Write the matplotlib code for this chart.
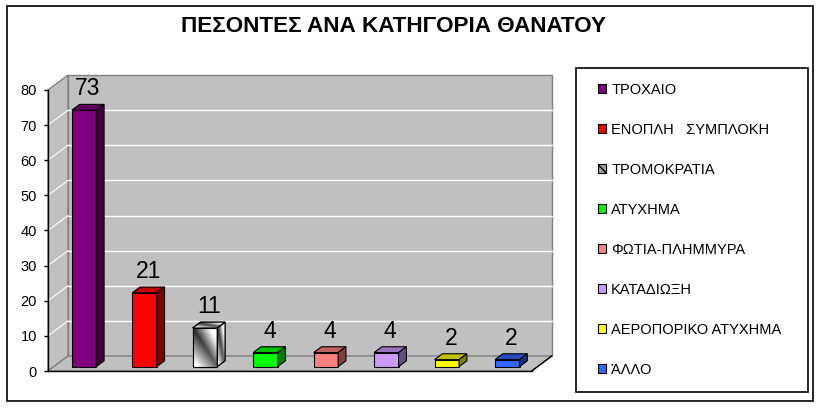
import numpy as np
import matplotlib.pyplot as plt
from matplotlib.patches import Polygon, Patch, Rectangle

plt.rcParams['font.family'] = ['Liberation Sans', 'DejaVu Sans']

# data
categories = ['ΤΡΟΧΑΙΟ', 'ΕΝΟΠΛΗ   ΣΥΜΠΛΟΚΗ', 'ΤΡΟΜΟΚΡΑΤΙΑ', 'ΑΤΥΧΗΜΑ',
              'ΦΩΤΙΑ-ΠΛΗΜΜΥΡΑ', 'ΚΑΤΑΔΙΩΞΗ', 'ΑΕΡΟΠΟΡΙΚΟ ΑΤΥΧΗΜΑ', 'ΆΛΛΟ']
values = [73, 21, 11, 4, 4, 4, 2, 2]
yticks = [0, 10, 20, 30, 40, 50, 60, 70, 80]
title = 'ΠΕΣΟΝΤΕΣ ΑΝΑ ΚΑΤΗΓΟΡΙΑ ΘΑΝΑΤΟΥ'

front_colors = ['#800080', '#FF0000', '#B0B0B0', '#00FF00', '#FF8080', '#CC99FF', '#FFFF00', '#3366FF']
top_colors = ['#600060', '#C00000', '#E0E0E0', '#00C000', '#C06060', '#9973BF', '#C0C000', '#264DBF']
side_colors = ['#400040', '#800000', '#F0F0F0', '#008000', '#804040', '#66507F', '#808000', '#1A3380']

W, H = 818, 411
fig = plt.figure(figsize=(W / 100, H / 100), dpi=100)

# outer chart border
fig.patches.append(Rectangle((6.5 / W, 10 / H), 806 / W, 395 / H, transform=fig.transFigure,
                             fill=False, edgecolor='black', lw=1.2))

ax = fig.add_axes([48 / W, 40 / H, 483.7 / W, 281 / H])
ax.set_facecolor('none')
n = len(values)
ymax = 80
DX, DY = 0.331, 4.27      # depth of the 3d box in data units
f0, f1 = 0.29, 0.68      # front/back depth of bars
bw = 0.405

wall = '#C0C0C0'
edge = '#808080'
# back wall, left wall, floor
ax.add_patch(Polygon([(DX, DY), (n + DX, DY), (n + DX, ymax + DY), (DX, ymax + DY)],
                     closed=True, facecolor=wall, edgecolor=edge, lw=1, clip_on=False, zorder=0))
ax.add_patch(Polygon([(0, 0), (DX, DY), (DX, ymax + DY), (0, ymax)],
                     closed=True, facecolor=wall, edgecolor=edge, lw=1, clip_on=False, zorder=0))
ax.add_patch(Polygon([(0, 0), (n, 0), (n + DX, DY), (DX, DY)],
                     closed=True, facecolor=wall, edgecolor=edge, lw=1, clip_on=False, zorder=0))
ax.plot([n, n + DX], [0, DY], color='black', lw=1, clip_on=False, zorder=1)

# gridlines
for v in yticks[1:-1]:
    ax.plot([DX, n + DX], [v + DY, v + DY], color='white', lw=1, clip_on=False, zorder=0.5)
    ax.plot([0, DX], [v, v + DY], color='white', lw=0.8, clip_on=False, zorder=0.5)

# bars
for i, v in enumerate(values):
    x0 = i + 0.5 - bw / 2
    ax0, ay0 = x0 + f0 * DX, f0 * DY
    bx, by = (f1 - f0) * DX, (f1 - f0) * DY
    front = [(ax0, ay0), (ax0 + bw, ay0), (ax0 + bw, ay0 + v), (ax0, ay0 + v)]
    top = [(ax0, ay0 + v), (ax0 + bw, ay0 + v), (ax0 + bw + bx, ay0 + v + by), (ax0 + bx, ay0 + v + by)]
    side = [(ax0 + bw, ay0), (ax0 + bw + bx, ay0 + by), (ax0 + bw + bx, ay0 + v + by), (ax0 + bw, ay0 + v)]
    for poly, col in [(front, front_colors[i]), (top, top_colors[i]), (side, side_colors[i])]:
        p = Polygon(poly, closed=True, facecolor=col, edgecolor='black', lw=0.8, clip_on=False, zorder=3)
        ax.add_patch(p)
        if i == 2:
            # metallic gradient fill for the terrorism bar
            xs = np.array(poly)[:, 0]
            ys = np.array(poly)[:, 1]
            gx, gy = np.meshgrid(np.linspace(0, 1, 60), np.linspace(0, 1, 60))
            g = np.abs(gx - (1 - gy)) + 0.25 * gx
            g = np.clip(0.15 + g, 0, 1)
            im = ax.imshow(g, cmap='gray', vmin=0, vmax=1, aspect='auto', origin='lower',
                           extent=(xs.min(), xs.max(), ys.min(), ys.max()), zorder=3.1)
            im.set_clip_path(p)
            ax.add_patch(Polygon(poly, closed=True, fill=False, edgecolor='black', lw=0.8,
                                 clip_on=False, zorder=3.2))
    ax.annotate(str(v), (i + 0.5 + (f0 + f1) / 2 * DX, v + (f0 + f1) / 2 * DY),
                xytext=(0, 12), textcoords='offset pixels', ha='center', va='baseline',
                fontsize=16.5, zorder=4, annotation_clip=False)

ax.set_xlim(0, n)
ax.set_ylim(0, ymax)
ax.set_xticks([])
ax.set_yticks(yticks)
ax.tick_params(axis='y', direction='out', length=3, width=1, pad=5, labelsize=10.5)
for s in ['top', 'right']:
    ax.spines[s].set_visible(False)
for s in ['left', 'bottom']:
    ax.spines[s].set_color('black')
    ax.spines[s].set_linewidth(1)
    ax.spines[s].set_zorder(2)

fig.text(393.5 / W, 1 - 27 / H, title, ha='center', va='center', fontsize=16.2, fontweight='bold')

# legend
fig.patches.append(Rectangle((576 / W, 1 - 392 / H), 232 / W, 324 / H, transform=fig.transFigure,
                             fill=False, edgecolor='black', lw=1.2))
handles = []
for i, c in enumerate(categories):
    if i == 2:
        handles.append(Patch(facecolor='#A0A0A0', edgecolor='black', hatch='\\\\\\', lw=0.8))
    else:
        handles.append(Patch(facecolor=front_colors[i], edgecolor='black', lw=0.8))
fig.legend(handles, categories, loc='upper left', bbox_to_anchor=(598 / W, 1 - 83 / H),
           frameon=False, fontsize=10.5, handlelength=0.55, handleheight=0.55, handletextpad=0.35,
           labelspacing=1.78, borderpad=0, borderaxespad=0)

fig.savefig('out.png', dpi=100)
